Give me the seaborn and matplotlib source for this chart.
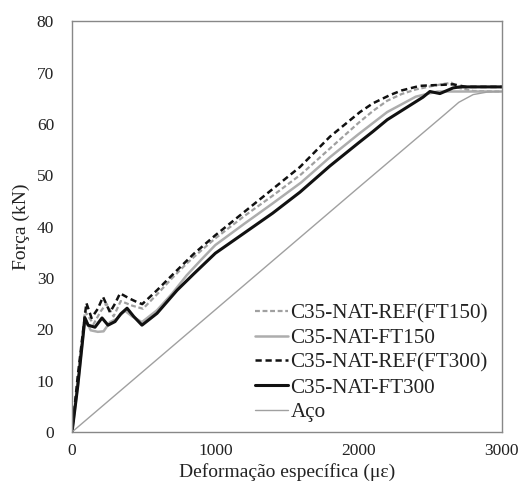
import numpy as np
import pandas as pd
import seaborn as sns
import matplotlib.pyplot as plt
from matplotlib.ticker import MultipleLocator

# strain (µε) / force (kN)
ref150_x = [0, 40, 90, 150, 200, 240, 290, 340, 420, 495, 600, 700, 800, 900, 1000, 1200, 1400, 1600,
            1800, 2000, 2100, 2200, 2300, 2400, 2500, 2600, 2650, 2700, 2800, 3000]
ref150_y = [0, 10, 23.5, 21.0, 23.5, 25.0, 22.5, 25.5, 24.6, 24.0, 27.0, 30.0, 32.8, 35.3, 37.7, 42.0, 46.0, 50.2,
            55.2, 60.2, 62.5, 64.5, 65.8, 66.7, 67.3, 67.8, 68.0, 67.0, 66.4, 66.3]

ft150_x = [0, 40, 90, 130, 180, 220, 265, 310, 370, 420, 488, 593, 700, 800, 900, 1000, 1200, 1400, 1600,
           1800, 2000, 2200, 2400, 2550, 2700, 3000]
ft150_y = [0, 9, 22.2, 19.8, 19.5, 19.6, 21.4, 22.0, 23.6, 22.5, 21.4, 23.7, 27.0, 30.5, 33.5, 36.4, 40.5, 44.5, 48.6,
           53.5, 58.0, 62.3, 65.3, 66.3, 66.3, 66.3]

ref300_x = [0, 40, 100, 136, 180, 216, 265, 300, 335, 400, 453, 490, 593, 733, 850, 1000, 1200, 1400, 1591,
            1800, 2010, 2100, 2219, 2300, 2428, 2500, 2660, 2750, 3000]
ref300_y = [0, 11, 25.1, 22.2, 24.0, 26.3, 23.3, 25.0, 27.0, 26.0, 25.3, 24.9, 27.6, 31.5, 34.7, 38.3, 42.8, 47.3, 51.6,
            57.5, 62.3, 64.0, 65.6, 66.5, 67.4, 67.5, 67.7, 67.2, 67.2]

ft300_x = [0, 40, 90, 112, 160, 209, 251, 300, 340, 384, 430, 488, 593, 733, 850, 1000, 1200, 1400, 1591,
           1800, 2000, 2100, 2200, 2359, 2450, 2498, 2568, 2660, 2708, 3000]
ft300_y = [0, 9, 22.2, 20.8, 20.4, 22.2, 20.8, 21.5, 23.0, 24.1, 22.5, 20.8, 23.1, 27.6, 30.8, 34.8, 38.7, 42.6, 46.7,
           51.8, 56.3, 58.5, 60.8, 63.6, 65.2, 66.3, 65.9, 67.0, 67.2, 67.2]

aco_x = [0, 1000, 2000, 2600, 2700, 2800, 2900, 3000]
aco_y = [0, 23.8, 47.6, 61.8, 64.2, 65.7, 66.2, 66.3]

labels = ["C35-NAT-REF(FT150)", "C35-NAT-FT150", "C35-NAT-REF(FT300)", "C35-NAT-FT300", "Aço"]

sns.set_style("white")
plt.rcParams["font.family"] = ["Liberation Serif", "DejaVu Serif"]

fig = plt.figure(figsize=(5.26, 4.92), dpi=100)
ax = fig.add_axes([0.137, 0.122, 0.817, 0.835])

series = [
    (ref150_x, ref150_y, "#a0a0a0", (0, (2.2, 1.2)), 1.6),
    (ft150_x, ft150_y, "#adadad", "-", 1.8),
    (ref300_x, ref300_y, "#111111", (0, (2.5, 1.5)), 1.8),
    (ft300_x, ft300_y, "#111111", "-", 2.2),
    (aco_x, aco_y, "#a0a0a0", "-", 1.0),
]
for (xs, ys, c, ls, lw), lab in zip(series, labels):
    sns.lineplot(x=xs, y=ys, ax=ax, color=c, linestyle=ls, linewidth=lw, label=lab,
                 sort=False, estimator=None)

ax.set_xlim(0, 3000)
ax.set_ylim(0, 80)
ax.xaxis.set_major_locator(MultipleLocator(1000))
ax.xaxis.set_minor_locator(MultipleLocator(500))
ax.yaxis.set_major_locator(MultipleLocator(10))
ax.yaxis.set_minor_locator(MultipleLocator(5))
ax.tick_params(which="both", direction="in", length=4, width=0.8, color="#777777",
               labelsize=12.5, labelcolor="#222222")
ax.tick_params(axis="y", pad=13)
ax.tick_params(axis="x", pad=8)
for sp in ax.spines.values():
    sp.set_color("#888888")
    sp.set_linewidth(1.0)

ax.set_xlabel("Deformação específica (με)", fontsize=14, color="#222222", labelpad=3)
ax.set_ylabel("Força (kN)", fontsize=14, color="#222222", labelpad=5)

ax.legend(loc="lower right", bbox_to_anchor=(0.99, 0.0), frameon=False, fontsize=15.2,
          handlelength=1.6, handletextpad=0.1, labelspacing=0.24, borderaxespad=0.05,
          labelcolor="#222222")

fig.savefig("out.png", dpi=100)
